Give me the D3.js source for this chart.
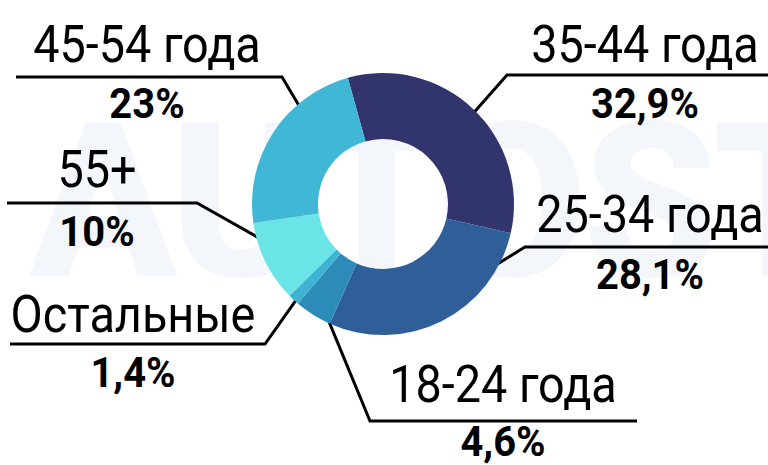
<!DOCTYPE html>
<html>
<head>
<meta charset="utf-8">
<script src="https://cdn.jsdelivr.net/npm/d3@7"></script>
<style>
  html, body { margin: 0; padding: 0; background: #fff; }
  svg { display: block; font-family: Roboto, "Noto Sans", sans-serif; }
</style>
</head>
<body>
<svg id="chart" width="768" height="465"></svg>
<script>
"use strict";

// data, clockwise from the top
const categories = ["35-44 года", "25-34 года", "18-24 года", "Остальные", "55+", "45-54 года"];
const shares = [32.9, 28.1, 4.6, 1.4, 10, 23];
const shareLabels = ["32,9%", "28,1%", "4,6%", "1,4%", "10%", "23%"];
const colors = ["#31346d", "#2f5f99", "#2d8bb9", "#3fb3d3", "#6be4e8", "#41b7d6"];

// label layout: where the leader meets the ring (deg), elbow, end of shelf, text centre, baselines
const labelLayout = [
  { angle: 45, elbow: [507, 75], end: 768, tx: 645, nameY: 62, valY: 118 },
  { angle: 123, elbow: [525, 247], end: 768, tx: 650, nameY: 232, valY: 289 },
  { angle: 208, elbow: [370, 421], end: 637, tx: 503, nameY: 402, valY: 456 },
  { angle: 222.5, elbow: [265, 344], end: 10, tx: 133, nameY: 332, valY: 387 },
  { angle: 252, elbow: [197, 203], end: 7, tx: 97, nameY: 187, valY: 246 },
  { angle: -41, elbow: [282, 77], end: 16, tx: 147, nameY: 62, valY: 118 }
];

const svg = d3.select("#chart");
const cx = 383, cy = 204, outerR = 131, innerR = 65;
const startAngle = -15.6 * Math.PI / 180;

// faint watermark
svg.append("text")
  .attr("x", 30).attr("y", 276)
  .attr("font-size", 215).attr("font-weight", 900)
  .attr("fill", "#f3f6fa")
  .attr("letter-spacing", -4)
  .text("AUTOSTAT");

const data = categories.map((c, i) => ({ name: c, value: shares[i], label: shareLabels[i], color: colors[i], layout: labelLayout[i] }));

const pie = d3.pie().value((d) => d.value).sort(null)
  .startAngle(startAngle).endAngle(startAngle + 2 * Math.PI);
const arc = d3.arc().innerRadius(innerR).outerRadius(outerR);

// leader lines under the ring
const leaders = svg.append("g").attr("class", "leaders");
data.forEach((d) => {
  const a = d.layout.angle * Math.PI / 180;
  const r = outerR - 8;
  const p0 = [cx + r * Math.sin(a), cy - r * Math.cos(a)];
  leaders.append("polyline")
    .attr("points", [p0, d.layout.elbow, [d.layout.end, d.layout.elbow[1]]].map((p) => p.join(",")).join(" "))
    .attr("fill", "none")
    .attr("stroke", "#000")
    .attr("stroke-width", 3)
    .attr("stroke-linejoin", "miter");
});

const ring = svg.append("g").attr("transform", `translate(${cx},${cy})`);
ring.selectAll("path")
  .data(pie(data))
  .join("path")
  .attr("d", arc)
  .attr("fill", (d) => d.data.color);

// labels
const labels = svg.append("g").attr("class", "labels");
data.forEach((d) => {
  labels.append("text")
    .attr("transform", `translate(${d.layout.tx},${d.layout.nameY}) scale(0.9,1)`)
    .attr("text-anchor", "middle")
    .attr("font-size", 52)
    .attr("fill", "#000")
    .text(d.name);
  labels.append("text")
    .attr("transform", `translate(${d.layout.tx},${d.layout.valY}) scale(0.95,1)`)
    .attr("text-anchor", "middle")
    .attr("font-size", 42)
    .attr("font-weight", 700)
    .attr("fill", "#000")
    .text(d.label);
});
</script>
</body>
</html>
